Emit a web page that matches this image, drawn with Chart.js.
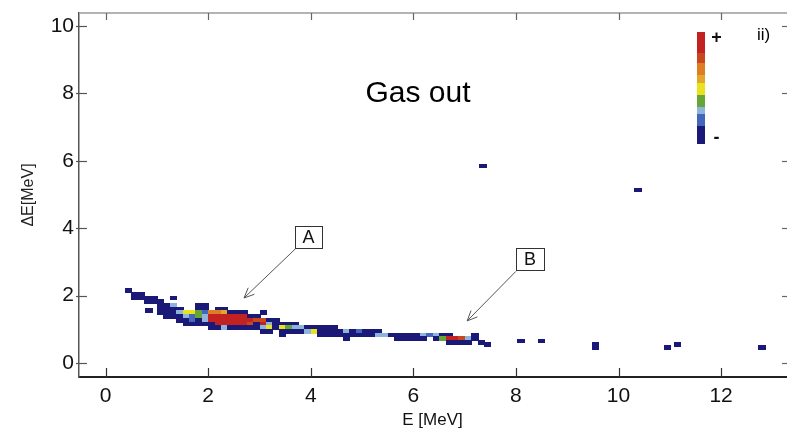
<!DOCTYPE html>
<html>
<head>
<meta charset="utf-8">
<script src="https://cdn.jsdelivr.net/npm/chart.js@4.4.0/dist/chart.umd.min.js"></script>
<style>
  html, body { margin: 0; padding: 0; background: #fff; }
</style>
</head>
<body>
<canvas id="chart" width="787" height="432"></canvas>
<script>
// Tick values
const xTicks = [0, 2, 4, 6, 8, 10, 12];
const yTicks = [0, 2, 4, 6, 8, 10];

// Histogram bin size (MeV)
const binE = 0.125;
const binDE = 0.11;

// Colour levels, from low (-) to high (+)
const levelColors = ['#1b1977', '#4466bb', '#8fb4dc', '#66a636', '#e9e31f', '#e3a72c', '#df7d22', '#c9471f', '#c42121'];

// Band of the dE-E histogram, one row per dE bin
const rowDE = [2.15, 2.04, 1.93, 1.82, 1.71, 1.60, 1.49, 1.38, 1.27, 1.16, 1.05, 0.94, 0.83, 0.72, 0.61];
const rowE = [
  [0.45],
  [0.575, 0.7],
  [0.575, 0.7, 0.825, 0.95, 1.325],
  [0.825, 0.95, 1.075],
  [1.075, 1.2, 1.325, 1.825, 1.95],
  [1.075, 1.2, 1.325, 1.45, 1.825, 1.95, 2.2, 2.325],
  [1.075, 1.2, 1.325, 1.45, 1.575, 1.7, 1.825, 1.95, 2.075, 2.2, 2.325, 2.45, 2.575, 2.7, 3.075],
  [1.2, 1.325, 1.45, 1.575, 1.7, 1.825, 1.95, 2.075, 2.2, 2.325, 2.45, 2.575, 2.7, 2.825, 2.95],
  [1.45, 1.575, 1.7, 1.825, 1.95, 2.075, 2.2, 2.325, 2.45, 2.575, 2.7, 2.825, 2.95, 3.075, 3.2, 3.325],
  [1.575, 1.7, 1.825, 1.95, 2.075, 2.2, 2.325, 2.45, 2.575, 2.7, 2.825, 2.95, 3.075, 3.2, 3.325, 3.45, 3.575, 3.7],
  [2.075, 2.2, 2.325, 2.45, 2.575, 2.7, 2.825, 2.95, 3.075, 3.2, 3.325, 3.45, 3.575, 3.7, 3.825, 3.95, 4.075, 4.2, 4.325, 4.45],
  [3.075, 3.2, 3.45, 3.575, 3.7, 3.825, 3.95, 4.075, 4.2, 4.325, 4.45, 4.575, 4.7, 4.825, 4.95, 5.075, 5.2, 5.325],
  [3.45, 4.2, 4.325, 4.45, 4.575, 4.7, 4.825, 4.95, 5.075, 5.2, 5.325, 5.45, 5.575, 5.7, 5.825, 5.95, 6.075, 6.2, 6.325, 6.45, 6.575, 6.7, 7.2],
  [4.7, 5.7, 5.825, 5.95, 6.075, 6.2, 6.45, 6.575, 6.7, 6.825, 6.95, 7.075, 7.2],
  [6.7, 6.825, 6.95, 7.075, 7.325]
];
const rowLevel = [
  [0],
  [0, 0],
  [0, 0, 0, 0, 0],
  [0, 0, 0],
  [0, 0, 2, 0, 0],
  [0, 0, 0, 0, 0, 0, 0, 0],
  [0, 0, 0, 2, 4, 4, 3, 1, 6, 6, 5, 0, 0, 0, 0],
  [0, 0, 0, 2, 1, 3, 2, 8, 8, 8, 8, 8, 8, 0, 0],
  [0, 0, 1, 0, 2, 8, 8, 8, 8, 8, 8, 8, 7, 7, 0, 0],
  [0, 0, 0, 0, 0, 8, 8, 8, 8, 8, 7, 0, 8, 2, 0, 0, 0, 0],
  [0, 0, 2, 0, 0, 0, 0, 0, 2, 4, 0, 4, 3, 2, 2, 0, 0, 0, 0, 0],
  [0, 0, 0, 0, 0, 0, 2, 4, 0, 0, 0, 0, 2, 0, 1, 0, 0, 0],
  [0, 0, 0, 0, 0, 0, 0, 0, 0, 0, 2, 2, 0, 0, 0, 0, 0, 2, 1, 2, 0, 0, 0],
  [0, 0, 0, 0, 0, 0, 0, 3, 8, 8, 7, 2, 0],
  [0, 0, 0, 0, 0]
];

// Isolated counts away from the band
const strayE = [0.85, 7.45, 8.1, 8.5, 9.55, 9.55, 10.95, 11.15, 12.8, 7.36, 10.38];
const strayDE = [1.55, 0.55, 0.65, 0.65, 0.56, 0.45, 0.47, 0.55, 0.47, 5.85, 5.13];
const strayLevel = [0, 0, 0, 0, 0, 0, 0, 0, 0, 0, 0];

// Build the point list
const cells = [];
rowDE.forEach((de, r) => {
  rowE[r].forEach((e, i) => cells.push({ x: e, y: de, level: rowLevel[r][i] }));
});
strayE.forEach((e, i) => cells.push({ x: e, y: strayDE[i], level: strayLevel[i] }));

const FONT = '"Liberation Sans", Arial, Helvetica, sans-serif';

// Draw each histogram cell as a rectangle of one bin, using the chart scales
const heatmapPlugin = {
  id: 'heatmap',
  beforeDatasetsDraw(chart) {
    const { ctx, scales: { x, y } } = chart;
    ctx.save();
    chart.data.datasets[0].data.forEach(c => {
      const x0 = Math.floor(x.getPixelForValue(c.x - binE / 2));
      const x1 = Math.ceil(x.getPixelForValue(c.x + binE / 2));
      const y0 = Math.floor(y.getPixelForValue(c.y + binDE / 2));
      const y1 = Math.ceil(y.getPixelForValue(c.y - binDE / 2));
      ctx.fillStyle = levelColors[c.level];
      ctx.fillRect(x0, y0, x1 - x0, y1 - y0);
    });
    ctx.restore();
  }
};

function arrow(ctx, x1, y1, x2, y2) {
  const a = Math.atan2(y2 - y1, x2 - x1);
  const len = 11, spread = 0.42;
  ctx.beginPath();
  ctx.moveTo(x1, y1);
  ctx.lineTo(x2, y2);
  ctx.moveTo(x2 - len * Math.cos(a - spread), y2 - len * Math.sin(a - spread));
  ctx.lineTo(x2, y2);
  ctx.lineTo(x2 - len * Math.cos(a + spread), y2 - len * Math.sin(a + spread));
  ctx.stroke();
}

// Frame, inward ticks, labels, arrows and colour bar
const decorPlugin = {
  id: 'decor',
  afterDraw(chart) {
    const { ctx, chartArea: ca, scales: { x, y } } = chart;
    ctx.save();

    // top frame line
    ctx.strokeStyle = '#9a9a9a';
    ctx.lineWidth = 1.5;
    ctx.beginPath();
    ctx.moveTo(ca.left, ca.top);
    ctx.lineTo(ca.right + 2, ca.top);
    ctx.stroke();

    // inward ticks
    ctx.lineWidth = 1.2;
    xTicks.forEach(v => {
      const px = Math.round(x.getPixelForValue(v)) + 0.5;
      ctx.strokeStyle = '#333';
      ctx.beginPath(); ctx.moveTo(px, ca.bottom); ctx.lineTo(px, ca.bottom - 9); ctx.stroke();
      ctx.strokeStyle = '#666';
      ctx.beginPath(); ctx.moveTo(px, ca.top); ctx.lineTo(px, ca.top + 7); ctx.stroke();
    });
    yTicks.forEach(v => {
      const py = Math.round(y.getPixelForValue(v)) + 0.5;
      ctx.strokeStyle = '#555';
      ctx.beginPath(); ctx.moveTo(ca.left - 3, py); ctx.lineTo(ca.left + 8, py); ctx.stroke();
      ctx.strokeStyle = '#666';
      ctx.beginPath(); ctx.moveTo(ca.right - 4, py); ctx.lineTo(ca.right + 2, py); ctx.stroke();
    });

    // "Gas out" label
    ctx.fillStyle = '#000';
    ctx.font = '30px ' + FONT;
    ctx.textAlign = 'center';
    ctx.textBaseline = 'alphabetic';
    ctx.fillText('Gas out', x.getPixelForValue(6.09), y.getPixelForValue(7.74));

    // panel tag
    ctx.font = '17px ' + FONT;
    ctx.textAlign = 'left';
    ctx.fillText('ii)', 757, 40);

    // annotation boxes with arrows
    const boxes = [
      { text: 'A', e0: 3.69, e1: 4.22, d0: 3.41, d1: 4.07, from: [3.71, 3.40], to: [2.70, 1.93] },
      { text: 'B', e0: 8.0, e1: 8.55, d0: 2.76, d1: 3.41, from: [8.0, 2.72], to: [7.05, 1.25] }
    ];
    boxes.forEach(b => {
      const bx0 = x.getPixelForValue(b.e0), bx1 = x.getPixelForValue(b.e1);
      const by0 = y.getPixelForValue(b.d1), by1 = y.getPixelForValue(b.d0);
      ctx.strokeStyle = '#555';
      ctx.lineWidth = 1;
      arrow(ctx, x.getPixelForValue(b.from[0]), y.getPixelForValue(b.from[1]),
                 x.getPixelForValue(b.to[0]), y.getPixelForValue(b.to[1]));
      ctx.fillStyle = '#fff';
      ctx.fillRect(bx0, by0, bx1 - bx0, by1 - by0);
      ctx.strokeStyle = '#333';
      ctx.strokeRect(Math.round(bx0) + 0.5, Math.round(by0) + 0.5, Math.round(bx1 - bx0), Math.round(by1 - by0));
      ctx.fillStyle = '#111';
      ctx.font = '18px ' + FONT;
      ctx.textAlign = 'center';
      ctx.textBaseline = 'middle';
      ctx.fillText(b.text, (bx0 + bx1) / 2, (by0 + by1) / 2 + 1);
    });

    // colour bar
    const barX = 697, barW = 8, barTop = 32;
    const segH = [21, 10, 12, 8, 12, 12, 7, 12, 18]; // top (+) to bottom (-)
    let yy = barTop;
    segH.forEach((h, i) => {
      ctx.fillStyle = levelColors[levelColors.length - 1 - i];
      ctx.fillRect(barX, yy, barW, h);
      yy += h;
    });
    ctx.fillStyle = '#111';
    ctx.font = 'bold 18px ' + FONT;
    ctx.textAlign = 'center';
    ctx.textBaseline = 'middle';
    ctx.fillText('+', 716.5, 38);
    ctx.fillText('-', 716.5, 138);

    ctx.restore();
  }
};

new Chart(document.getElementById('chart'), {
  type: 'scatter',
  data: {
    datasets: [{
      data: cells,
      pointRadius: 0,
      pointHoverRadius: 0,
      showLine: false
    }]
  },
  options: {
    responsive: false,
    animation: false,
    layout: { padding: { top: 13, right: 1, left: 0, bottom: 0 } },
    plugins: { legend: { display: false }, tooltip: { enabled: false } },
    scales: {
      x: {
        type: 'linear',
        min: -0.517,
        max: 13.265,
        afterBuildTicks: s => { s.ticks = xTicks.map(v => ({ value: v })); },
        afterFit: s => { s.height = 55; s.paddingLeft = 0; s.paddingRight = 0; },
        grid: { display: false, drawTicks: false },
        border: { display: true, color: '#222', width: 2 },
        ticks: { color: '#111', padding: 7, font: { family: FONT, size: 21 } },
        title: { display: true, text: 'E [MeV]', color: '#111', padding: { top: 0, bottom: 1 }, font: { family: FONT, size: 17 } }
      },
      y: {
        type: 'linear',
        min: -0.415,
        max: 10.386,
        afterBuildTicks: s => { s.ticks = yTicks.map(v => ({ value: v })); },
        afterFit: s => { s.width = 79; s.paddingTop = 0; s.paddingBottom = 0; },
        grid: { display: false, drawTicks: false },
        border: { display: true, color: '#555', width: 1.5 },
        ticks: { color: '#111', padding: 5, font: { family: FONT, size: 21 } },
        title: { display: true, text: 'ΔE[MeV]', color: '#222', padding: { top: 19, bottom: 0 }, font: { family: FONT, size: 16 } }
      }
    }
  },
  plugins: [heatmapPlugin, decorPlugin]
});
</script>
</body>
</html>
